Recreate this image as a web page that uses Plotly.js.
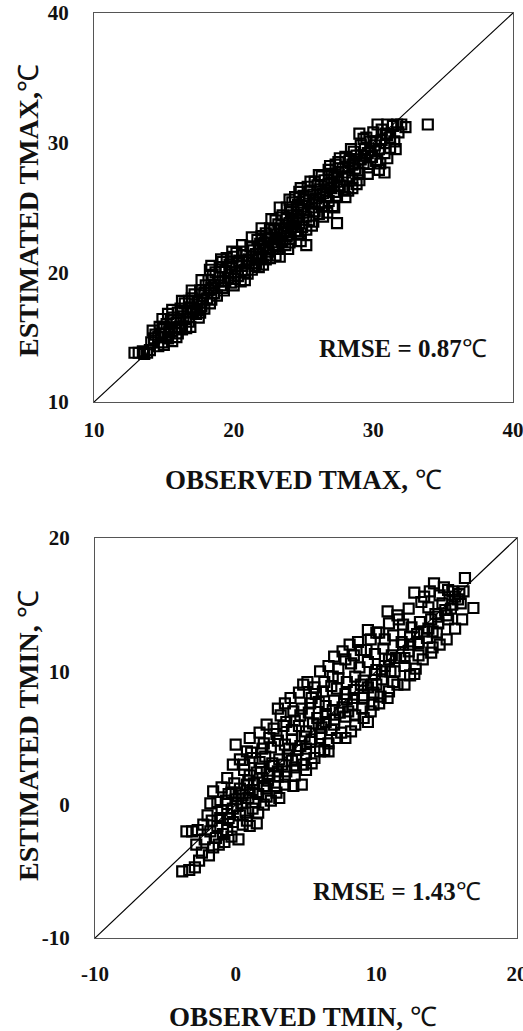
<!DOCTYPE html>
<html>
<head>
<meta charset="utf-8">
<script src="https://cdn.plot.ly/plotly-3.0.1.min.js"></script>
<style>html,body{margin:0;padding:0;background:#fff;}#chart{width:523px;height:1031px;}</style>
</head>
<body>
<div id="chart"></div>
<script>
// ---- TMAX panel (observed vs estimated, °C) ----
const tmaxObs = [12.9,13.2,13.5,13.8,14.0,13.6,14.2,14.4,14.6,14.8,14.3,14.9,15.1,15.3,15.6,15.9,15.0,15.2,15.5,15.3,15.7,15.9,16.1,16.3,16.6,16.9,16.0,16.2,16.4,16.7,16.9,16.5,16.8,17.1,17.3,17.5,17.0,17.2,17.4,17.7,17.9,17.6,17.9,18.1,18.3,18.0,18.2,18.4,18.6,18.8,18.3,18.5,18.7,18.9,19.1,19.3,19.0,19.2,19.4,19.6,19.8,20.0,19.5,19.7,19.9,20.1,20.3,20.5,20.8,20.0,20.2,20.4,20.6,20.8,21.0,21.3,20.6,20.9,21.1,21.3,21.5,21.8,22.1,21.2,21.4,21.6,21.8,22.0,22.3,22.6,23.0,23.3,21.7,21.9,22.1,22.3,22.5,22.8,22.0,22.3,22.5,22.7,22.9,23.1,22.6,22.9,23.1,23.3,23.5,23.7,23.9,23.0,23.2,23.4,23.6,23.8,24.0,23.5,23.8,24.0,24.2,24.4,24.6,24.8,25.2,23.8,24.1,24.3,24.5,24.7,24.9,25.2,24.2,24.4,24.6,24.8,25.0,25.2,25.4,25.7,24.7,25.0,25.2,25.4,25.6,25.8,26.1,25.3,25.5,25.7,25.9,26.1,26.3,26.7,25.8,26.0,26.2,26.4,26.6,26.8,27.1,26.3,26.5,26.8,27.0,27.2,27.4,27.4,26.8,27.0,27.2,27.4,27.6,27.9,28.2,27.3,27.5,27.8,28.0,28.2,28.5,28.5,28.0,28.3,28.5,28.7,29.0,29.0,28.6,28.8,29.1,29.3,29.6,29.1,29.4,29.6,29.9,30.2,30.5,29.0,29.5,29.8,30.1,30.4,30.8,31.2,30.3,30.6,30.9,31.2,31.5,30.8,31.0,31.4,31.7,32.0,32.3,31.8,33.9,
  14.1,14.6,15.0,15.4,15.8,16.2,16.6,17.0,17.4,17.8,18.2,18.6,19.0,19.4,19.8,20.2,20.6,21.0,21.4,21.8,22.2,22.6,23.0,23.4,23.8,24.2,24.6,25.0,25.4,25.8,26.2,26.6,27.0,27.4,27.8,28.2,28.6,29.0,29.4,29.8,30.2,30.6,31.0,14.7,15.4,16.0,16.8,17.6,18.4,19.2,20.0,20.8,21.6,22.4,23.2,24.0,24.8,25.6,26.4,27.2,28.0,28.8,29.6,30.4,31.0,31.6,30.0,29.3,28.4,27.6,26.9,26.1,25.5,24.8,24.0,23.3,22.7,22.0,21.3,20.6,19.9,19.1,18.4,17.7,17.0,16.3,15.6,14.9];
const tmaxEst = [13.8,13.8,13.9,13.8,14.0,13.7,15.5,15.2,15.0,15.3,14.9,14.6,15.0,14.9,14.7,15.0,15.8,16.0,16.3,16.8,16.5,16.1,15.8,15.6,15.7,15.8,16.9,17.2,16.6,16.9,17.3,17.6,17.8,17.0,16.8,16.5,18.0,18.3,17.7,17.4,17.2,18.6,18.4,18.0,17.6,19.0,19.4,18.8,18.4,18.2,20.2,19.8,20.0,19.3,19.0,18.6,20.4,20.8,20.1,19.6,19.2,19.0,21.1,20.6,20.3,20.0,19.7,19.3,19.4,21.2,21.5,20.9,20.5,20.2,19.9,20.2,21.6,21.3,21.0,20.7,20.5,20.4,20.6,22.0,21.7,21.4,21.1,21.2,21.0,21.1,21.3,21.2,22.5,22.2,22.0,21.8,21.6,21.8,22.8,23.0,22.6,22.3,22.1,22.0,23.4,23.3,22.9,22.6,22.4,22.1,21.8,24.0,23.7,23.4,23.1,22.8,22.6,24.4,24.1,23.8,23.5,23.2,22.9,22.4,22.1,25.0,24.7,24.4,24.1,23.8,23.5,23.3,25.4,25.8,25.2,24.9,24.6,24.3,24.0,23.9,26.2,25.9,25.6,25.3,25.0,24.7,24.5,26.6,26.3,26.0,25.7,25.4,25.1,24.6,27.0,26.7,26.4,26.1,25.8,25.5,25.1,27.4,27.1,26.8,26.5,26.2,25.9,23.8,27.9,27.6,27.3,27.0,26.7,26.4,26.3,28.3,28.5,28.0,27.7,27.4,27.1,26.5,28.9,28.6,28.3,28.0,27.7,27.1,29.3,29.0,28.7,28.4,28.1,29.8,29.5,29.2,28.9,28.6,28.4,30.7,30.4,30.1,29.8,29.5,29.2,29.6,31.4,31.0,30.7,30.4,30.1,27.7,31.4,31.3,31.4,31.4,31.2,30.8,31.4,
  14.6,14.3,14.4,15.4,15.7,16.3,16.4,17.2,17.1,17.9,18.6,19.0,19.6,19.3,20.0,20.5,20.8,20.9,21.2,21.8,22.3,22.6,22.7,23.0,23.4,24.0,24.3,24.8,25.6,25.4,26.0,26.3,26.9,27.3,27.4,28.1,28.4,28.7,29.0,29.4,30.1,30.2,30.6,15.8,15.6,15.3,16.2,16.9,17.9,18.8,19.5,20.0,20.7,21.3,21.8,22.3,23.0,23.6,24.3,25.0,25.8,26.8,27.6,27.9,28.8,29.5,30.8,30.3,29.5,28.8,28.2,27.5,27.0,26.5,25.6,25.0,24.1,23.4,22.7,22.1,21.6,21.0,20.5,19.4,18.6,17.8,17.1,16.4];

// ---- TMIN panel (observed vs estimated, °C) ----
const tminObs = [-3.8,-3.3,-2.9,-2.6,-2.4,-1.9,-1.6,-1.2,-0.8,-1.4,-0.9,-3.5,-3.1,-2.7,-2.3,-2.0,-1.7,-1.3,-0.6,-0.3,0.2,-0.2,0.5,1.0,1.5,-1.8,-1.3,-1.0,-0.6,-0.2,0.3,0.7,1.2,-1.6,-1.0,-0.5,0.0,0.4,0.9,1.4,2.0,2.5,3.1,-0.6,-0.1,0.3,0.8,1.2,1.6,2.2,2.8,3.5,4.1,4.7,-0.2,0.3,0.6,1.0,1.5,1.9,2.4,3.0,3.6,4.2,5.0,0.0,0.8,1.2,1.7,2.1,2.6,3.1,3.7,4.3,5.0,5.6,6.3,1.0,1.7,2.0,2.5,3.0,3.5,4.0,4.6,5.3,6.0,6.6,2.2,2.7,3.2,3.6,4.0,4.5,5.0,5.5,6.1,6.8,7.5,8.2,3.0,3.5,4.1,4.6,5.2,5.8,6.4,7.0,7.8,8.5,9.4,3.9,4.5,5.1,5.4,5.9,6.4,7.0,7.6,8.3,9.0,9.8,4.8,5.6,6.2,6.9,7.2,7.8,8.4,9.1,9.8,10.3,10.9,6.0,6.6,7.3,7.9,8.5,9.1,9.7,10.4,11.2,12.4,7.0,7.6,8.2,8.8,9.4,10.0,10.6,11.3,12.0,12.8,8.1,8.7,9.3,9.9,10.5,11.1,11.7,12.3,13.0,14.0,9.4,10.0,10.6,11.2,11.8,12.4,13.0,13.6,14.3,10.8,11.5,11.9,12.5,13.1,13.7,14.4,15.1,12.7,13.2,13.7,14.2,14.7,15.3,15.8,13.8,14.5,15.1,15.6,16.2,16.9,16.3,
  -2.8,-2.2,-1.8,-1.1,-0.7,-0.3,0.1,0.5,0.9,1.3,1.8,2.3,2.7,3.3,3.8,4.4,4.9,5.4,5.9,6.4,6.9,7.4,7.9,8.4,8.9,9.4,9.9,10.4,10.9,11.4,11.9,12.4,12.9,13.4,13.9,14.4,14.9,15.4,15.9,0.6,1.1,1.9,2.4,2.9,3.4,4.2,4.7,5.3,5.7,6.3,6.8,7.3,7.8,8.4,8.9,9.6,10.2,10.9,11.6,12.3,13.4,14.1,14.8,15.4,0.8,1.6,2.2,2.9,3.5,4.2,4.8,5.4,6.0,6.6,7.2,7.8,8.5,9.1,9.6,10.2,10.8,11.5,12.0,12.7,13.3,13.9,14.5,15.0,15.6,16.1,-0.5,0.0,1.0,2.0,3.0,4.0,5.0,6.0,7.0,8.0,9.0,10.0,11.0,12.0,13.0,14.0,15.0,16.0];
const tminEst = [-5.0,-4.9,-4.7,-4.2,-3.6,-3.8,-3.2,-3.0,-2.8,-2.5,-2.2,-2.0,-2.0,-1.9,-1.5,-0.8,-1.2,-1.6,-1.9,-2.4,-2.6,-1.3,-1.5,-1.6,-1.4,0.1,0.2,-0.4,-0.7,-0.3,-0.8,-0.6,-0.3,1.0,1.3,0.8,0.4,0.1,0.5,0.2,0.0,0.3,0.5,2.0,1.6,1.2,1.5,1.1,0.8,1.2,1.4,1.5,1.4,1.5,3.0,3.4,2.6,2.2,2.4,2.0,2.3,2.1,2.5,2.8,2.6,4.5,4.0,3.5,3.2,3.6,3.1,3.4,3.7,3.4,3.8,3.5,4.1,5.0,5.4,4.6,4.3,4.8,4.5,4.9,4.4,4.7,5.0,4.6,6.0,5.7,6.7,6.2,5.6,5.9,5.5,6.1,5.8,5.6,5.4,5.5,7.2,7.6,7.0,6.7,6.9,6.5,6.8,6.4,6.6,6.7,6.2,8.0,8.4,9.2,8.0,7.7,7.4,7.8,7.3,7.5,7.2,7.5,9.0,8.8,8.5,9.6,8.7,8.3,8.6,8.2,8.4,8.1,8.5,10.0,10.4,9.5,9.2,9.6,9.3,9.0,9.4,9.2,9.7,11.1,11.5,10.6,10.3,10.7,10.1,10.4,10.0,10.4,10.2,12.0,12.2,11.6,11.3,11.7,11.2,11.0,11.5,11.2,11.8,13.1,12.9,12.4,12.7,12.2,12.6,12.1,12.5,12.9,14.5,14.2,13.5,13.3,13.7,13.2,13.6,13.9,15.9,15.2,14.8,14.3,15.1,14.7,15.4,16.0,15.7,16.1,15.6,16.0,14.75,17.0,
  -3.0,-2.6,-2.0,-1.0,0.3,0.9,-0.1,0.7,1.8,1.6,2.7,1.8,2.9,3.0,4.2,4.1,5.1,4.9,6.0,6.2,7.1,6.9,7.9,8.0,9.0,8.8,9.8,10.0,10.9,11.0,12.0,12.0,12.8,13.0,13.9,14.1,14.6,15.0,15.8,3.0,3.9,4.2,5.0,5.3,5.9,6.3,7.2,7.6,8.3,9.2,8.9,10.2,10.9,11.2,11.6,12.4,12.9,13.6,13.9,14.7,15.6,16.6,16.3,16.0,-1.2,-0.6,0.6,0.9,2.1,2.2,3.0,3.1,4.0,4.0,5.0,5.0,6.0,6.5,7.0,7.6,8.0,9.0,9.0,9.8,10.9,11.4,12.0,12.4,13.2,13.9,-1.0,0.9,0.9,1.4,2.5,3.3,4.2,5.3,6.0,7.0,8.0,9.0,10.0,11.0,12.2,13.0,14.2,15.1];

// axis ranges and ticks
const tmaxRange = [10, 40];
const tmaxTicks = [10, 20, 30, 40];
const tminRange = [-10, 20];
const tminTicks = [-10, 0, 10, 20];

const serif = '"Liberation Serif", "Times New Roman", serif';
const tickFont = {family: serif, size: 21, color: '#111', weight: 'bold'};
const xTitleFont = {family: serif, size: 27, color: '#111', weight: 'bold'};
const yTitleFont = {family: serif, size: 28, color: '#111', weight: 'bold'};
const rmseFont = {family: serif, size: 25, color: '#111', weight: 'bold'};
const deg = '<span style="font-weight:normal">℃</span>';

const markerStyle = {symbol: 'square-open', size: 10, color: '#000', line: {width: 2.2, color: '#000'}};

const traces = [
  {x: tmaxRange, y: tmaxRange, mode: 'lines', line: {color: '#000', width: 1.2}, xaxis: 'x', yaxis: 'y', hoverinfo: 'skip'},
  {x: tmaxObs, y: tmaxEst, mode: 'markers', marker: markerStyle, xaxis: 'x', yaxis: 'y'},
  {x: tminRange, y: tminRange, mode: 'lines', line: {color: '#000', width: 1.2}, xaxis: 'x2', yaxis: 'y2', hoverinfo: 'skip'},
  {x: tminObs, y: tminEst, mode: 'markers', marker: markerStyle, xaxis: 'x2', yaxis: 'y2'}
];

function ax(range, ticks, domain, anchor, standoff) {
  return {
    range: range, tickvals: ticks, ticktext: ticks.map(String), domain: domain, anchor: anchor,
    showgrid: false, zeroline: false, showline: true, mirror: true, linecolor: '#555', linewidth: 1,
    ticks: '', tickfont: tickFont, ticklabelstandoff: standoff, ticklabeloverflow: 'allow', fixedrange: true
  };
}

const W = 523, H = 1031;
const layout = {
  width: W, height: H,
  margin: {l: 0, r: 0, t: 0, b: 0},
  paper_bgcolor: '#fff', plot_bgcolor: '#fff',
  showlegend: false,
  xaxis: ax(tmaxRange, tmaxTicks, [94 / W, 513 / W], 'y', 9),
  yaxis: ax(tmaxRange, tmaxTicks, [1 - 402 / H, 1 - 13 / H], 'x', 20),
  xaxis2: ax(tminRange, tminTicks, [95 / W, 517 / W], 'y2', 17),
  yaxis2: ax(tminRange, tminTicks, [1 - 938 / H, 1 - 538 / H], 'x2', 20),
  annotations: [
    {xref: 'paper', yref: 'paper', x: 303 / W, y: 1 - 480 / H, xanchor: 'center', yanchor: 'middle', showarrow: false, text: 'OBSERVED TMAX, ' + deg, font: xTitleFont},
    {xref: 'paper', yref: 'paper', x: 28 / W, y: 1 - 211 / H, xanchor: 'center', yanchor: 'middle', showarrow: false, textangle: -90, text: 'ESTIMATED TMAX,' + deg, font: yTitleFont},
    {xref: 'paper', yref: 'paper', x: 303 / W, y: 1 - 1017 / H, xanchor: 'center', yanchor: 'middle', showarrow: false, text: 'OBSERVED TMIN, ' + deg, font: xTitleFont},
    {xref: 'paper', yref: 'paper', x: 28 / W, y: 1 - 736 / H, xanchor: 'center', yanchor: 'middle', showarrow: false, textangle: -90, text: 'ESTIMATED TMIN, ' + deg, font: yTitleFont},
    {xref: 'x', yref: 'y', x: 32.1, y: 14.1, xanchor: 'center', yanchor: 'middle', showarrow: false, text: 'RMSE = 0.87' + deg, font: rmseFont},
    {xref: 'x2', yref: 'y2', x: 11.5, y: -6.5, xanchor: 'center', yanchor: 'middle', showarrow: false, text: 'RMSE = 1.43' + deg, font: rmseFont}
  ]
};

Plotly.newPlot('chart', traces, layout, {staticPlot: true, displayModeBar: false});
</script>
</body>
</html>
